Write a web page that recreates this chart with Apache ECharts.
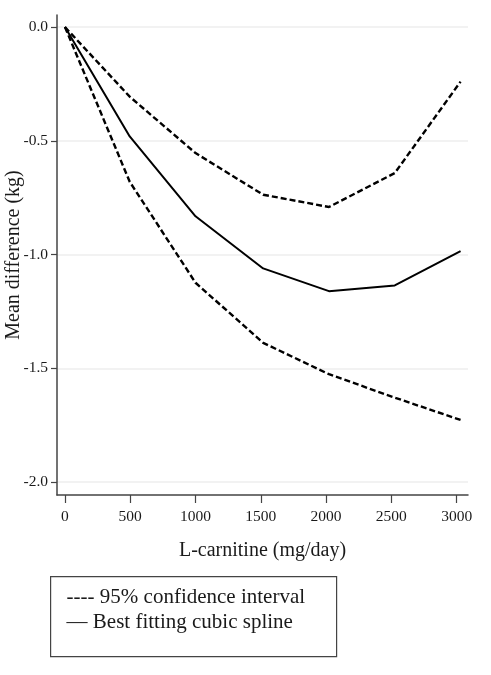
<!DOCTYPE html>
<html>
<head>
<meta charset="UTF-8">
<script src="https://cdn.jsdelivr.net/npm/echarts@6/dist/echarts.min.js"></script>
<style>
  body { margin: 0; padding: 0; background: #fff; }
  #chart { width: 491px; height: 675px; }
</style>
</head>
<body>
<div id="chart"></div>
<script>
// dose points (mg/day)
const doses = [0, 496, 1000, 1518, 2022, 2526, 3030];
// best fitting cubic spline
const spline = [0, -0.481, -0.832, -1.061, -1.161, -1.136, -0.985];
// 95% CI bounds
const upperCI = [0, -0.306, -0.554, -0.737, -0.791, -0.642, -0.240];
const lowerCI = [0, -0.680, -1.124, -1.388, -1.526, -1.629, -1.727];

const xTicks = [0, 500, 1000, 1500, 2000, 2500, 3000];
const yTicks = [-2.0, -1.5, -1.0, -0.5, 0.0];

const legendLines = ['---- 95% confidence interval', '\u2014 Best fitting cubic spline'];

const pair = (xs, ys) => xs.map((x, i) => [x, ys[i]]);

const FONT = '"Liberation Serif", "DejaVu Serif", serif';
const AXIS_COLOR = '#444';
const TEXT_COLOR = '#1a1a1a';

const chart = echarts.init(document.getElementById('chart'));

const dashed = { color: '#000', width: 2.4, type: [6, 3] };

chart.setOption({
  animation: false,
  backgroundColor: '#fff',
  textStyle: { fontFamily: FONT },
  grid: { left: 57, right: 23, top: 15, bottom: 180, containLabel: false, outerBoundsMode: 'none' },
  xAxis: {
    type: 'value',
    min: -61,
    max: 3087,
    name: 'L-carnitine (mg/day)',
    nameLocation: 'middle',
    nameGap: 46,
    nameMoveOverlap: false,
    nameTextStyle: { fontFamily: FONT, fontSize: 20, color: TEXT_COLOR },
    axisLine: { show: true, onZero: false, lineStyle: { color: AXIS_COLOR, width: 1.5 } },
    axisTick: { show: true, length: 8, customValues: xTicks, lineStyle: { color: AXIS_COLOR, width: 1.2 } },
    axisLabel: {
      customValues: xTicks,
      margin: 14,
      fontFamily: FONT, fontSize: 15.5, color: TEXT_COLOR,
      formatter: v => String(v)
    },
    splitLine: { show: false }
  },
  yAxis: {
    type: 'value',
    min: -2.057,
    max: 0.053,
    name: 'Mean difference (kg)',
    nameLocation: 'middle',
    nameGap: 33,
    nameMoveOverlap: false,
    nameTextStyle: { fontFamily: FONT, fontSize: 20, color: TEXT_COLOR },
    axisLine: { show: true, onZero: false, lineStyle: { color: AXIS_COLOR, width: 1.5 } },
    axisTick: { show: true, length: 6, customValues: yTicks, lineStyle: { color: AXIS_COLOR, width: 1.2 } },
    axisLabel: {
      customValues: yTicks,
      margin: 9,
      fontFamily: FONT, fontSize: 15.5, color: TEXT_COLOR,
      formatter: v => v.toFixed(1)
    },
    splitLine: { show: true, lineStyle: { color: '#eee', width: 1.5 } }
  },
  series: [
    {
      name: 'Upper CI', type: 'line', data: pair(doses, upperCI),
      symbol: 'none', lineStyle: dashed, z: 3
    },
    {
      name: 'Lower CI', type: 'line', data: pair(doses, lowerCI),
      symbol: 'none', lineStyle: dashed, z: 3
    },
    {
      name: 'Spline', type: 'line', data: pair(doses, spline),
      symbol: 'none', lineStyle: { color: '#000', width: 2 }, z: 4
    }
  ],
  graphic: [
    {
      type: 'group',
      left: 50,
      top: 576,
      children: [
        {
          type: 'rect',
          shape: { x: 0, y: 0, width: 286, height: 80 },
          style: { fill: '#fff', stroke: '#444', lineWidth: 1.2 }
        },
        {
          type: 'text',
          x: 16, y: 10,
          style: { text: legendLines[0], font: '21px ' + FONT, fill: TEXT_COLOR }
        },
        {
          type: 'text',
          x: 16, y: 35,
          style: { text: legendLines[1], font: '21px ' + FONT, fill: TEXT_COLOR }
        }
      ]
    }
  ]
});
</script>
</body>
</html>
